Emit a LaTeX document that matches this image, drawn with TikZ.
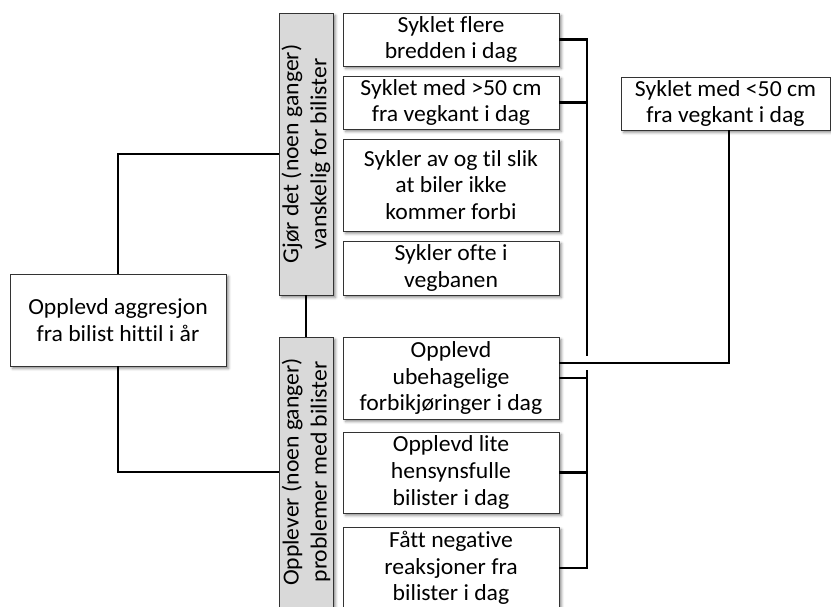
\documentclass[tikz,border=0pt]{standalone}
\usepackage{fontspec}
\setmainfont{Carlito}[FakeStretch=1.03, Ligatures=NoCommon]
\usetikzlibrary{shadows.blur}
\begin{document}
\begin{tikzpicture}[x=1pt,y=-1pt,
  shadowed/.style={blur shadow={shadow xshift=2.5pt, shadow yshift=-2.5pt, shadow blur radius=2.5pt, shadow opacity=45}},
  box/.style={draw=black!80, line width=0.9pt, fill=white, minimum width=216pt, align=center, inner sep=0pt, font=\fontsize{23}{26.7}\selectfont, shadowed},
  greybox/.style={draw=black!80, line width=0.9pt, fill=black!15, minimum width=54pt, inner sep=0pt, shadowed},
  vtext/.style={rotate=90, align=center, inner sep=0pt, font=\fontsize{23}{28}\selectfont},
  conn/.style={draw=black, line width=2.8pt}]
\useasboundingbox (0,0) rectangle (831,606);

\node[box, minimum height=92pt] (main) at (118,320) {Opplevd aggresjon\\fra bilist hittil i år};

\node[greybox, minimum height=282pt] (g1) at (306,154) {};
\node[vtext] (g1t) at (g1.center) {Gjør det (noen ganger)\\vanskelig for bilister};
\node[greybox, minimum height=270pt] (g2) at (306,472) {};
\node[vtext] (g2t) at (g2.center) {Opplever (noen ganger)\\problemer med bilister};

\node[box, minimum height=53pt] (b1) at (451,39.5) {Syklet flere\\bredden i dag};
\node[box, minimum height=53pt] (b2) at (451,102.5) {Syklet med >50 cm\\fra vegkant i dag};
\node[box, minimum height=92pt] (b3) at (451,185) {Sykler av og til slik\\at biler ikke\\kommer forbi};
\node[box, minimum height=54pt] (b4) at (451,268) {Sykler ofte i\\vegbanen};
\node[box, minimum height=82pt] (b5) at (451,378) {Opplevd\\ubehagelige\\forbikjøringer i dag};
\node[box, minimum height=81pt] (b6) at (451,472.5) {Opplevd lite\\hensynsfulle\\bilister i dag};
\node[box, minimum height=82pt] (b7) at (451,568) {Fått negative\\reaksjoner fra\\bilister i dag};

\node[box, minimum width=209pt, minimum height=53pt] (c50) at (725.5,103.5) {Syklet med <50 cm\\fra vegkant i dag};

\coordinate (ub) at (587,356);
\coordinate (lt) at (587,370);

\draw[conn] (main.north) |- (g1.west);
\draw[conn] (main.south) |- (g2.west);
\draw[conn] (g1.south) -- (g2.north);

\draw[conn] (b1.east) -| (ub);
\draw[conn] (b2.east) -- (b2.east -| ub);

\draw[conn] ([yshift=15pt]b5.east) -| ([xshift=3.5pt]c50.south);

\draw[conn] (lt) |- (b7.east);
\draw[conn] (b5.east) -- (b5.east -| lt);
\draw[conn] (b6.east) -- (b6.east -| lt);
\end{tikzpicture}
\end{document}
